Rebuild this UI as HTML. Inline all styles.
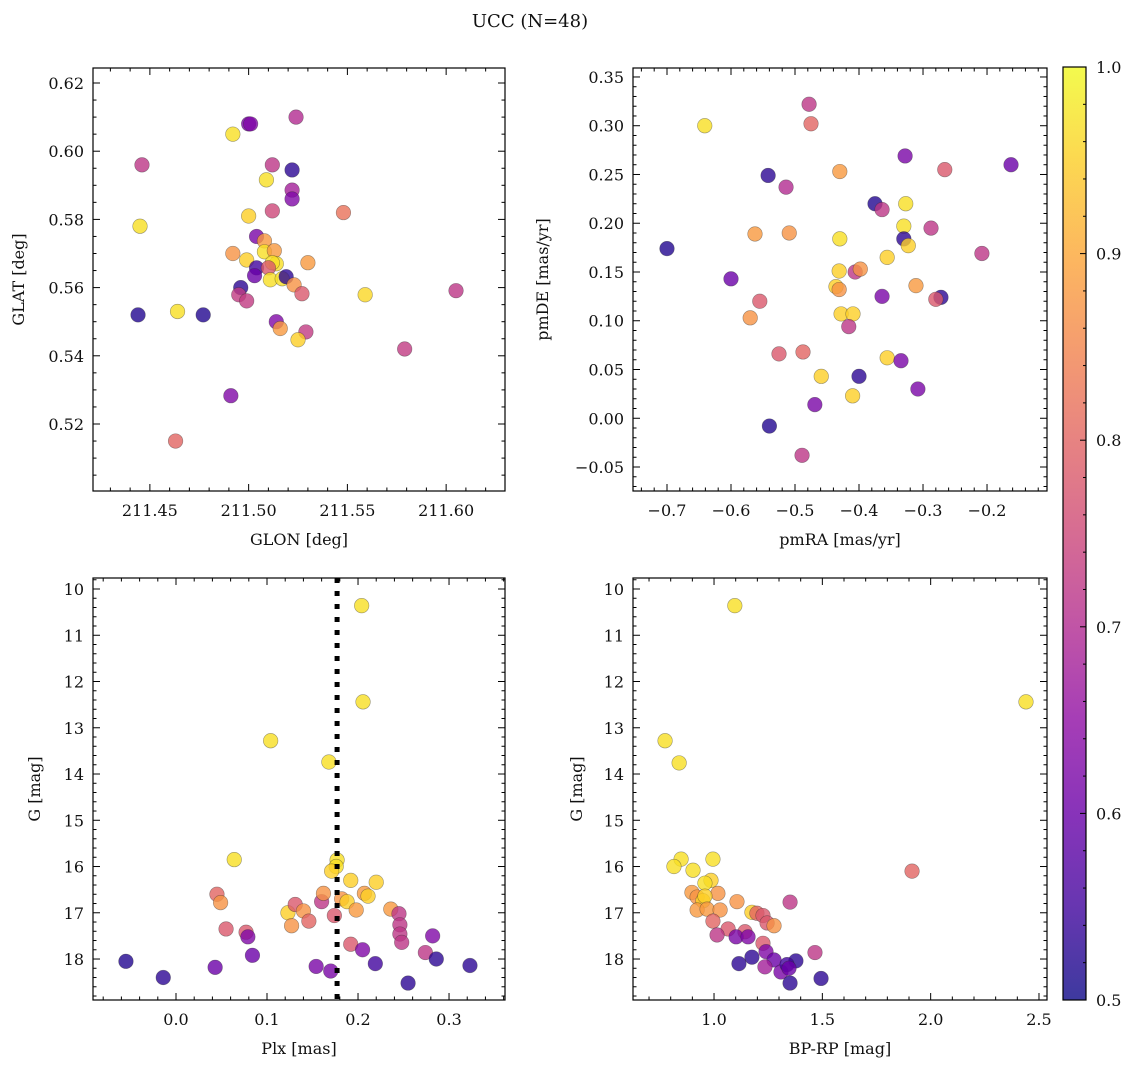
<!DOCTYPE html>
<html><head><meta charset="utf-8"><style>
body{margin:0;background:#fff}
svg text{font-family:"DejaVu Serif","Liberation Serif",serif;fill:#111}
</style></head><body>
<svg id="fig" width="1136" height="1067" xmlns="http://www.w3.org/2000/svg">
<text x="530" y="27" font-size="18" text-anchor="middle">UCC (N=48)</text>
</svg>
<script>
// ---- data: panel 1 (GLON vs GLAT)
const glon1=[211.446,211.445,211.444,211.464,211.477,211.463,211.492,211.500,211.501,211.524,211.512,211.522,211.509,211.522,211.522,211.512,211.500,211.548,211.504,211.508,211.492,211.508,211.513,211.499,211.530,211.514,211.512,211.504,211.510,211.503,211.511,211.517,211.519,211.523,211.527,211.496,211.495,211.499,211.514,211.516,211.529,211.525,211.559,211.605,211.579,211.491];
const glat1=[0.596,0.578,0.552,0.553,0.552,0.515,0.605,0.608,0.608,0.610,0.596,0.5945,0.5916,0.5886,0.586,0.5825,0.581,0.582,0.575,0.5737,0.570,0.5705,0.5708,0.5681,0.5673,0.567,0.5673,0.5658,0.5658,0.5635,0.5623,0.5626,0.5632,0.5608,0.5582,0.560,0.5579,0.5561,0.550,0.548,0.547,0.5447,0.5579,0.5591,0.542,0.5283];
const prob1=[.72,.97,.52,.97,.52,.80,.97,.62,.63,.70,.72,.53,.97,.68,.63,.75,.95,.82,.62,.88,.87,.97,.88,.95,.88,.97,.97,.55,.78,.60,.97,.97,.53,.87,.78,.53,.73,.73,.63,.88,.73,.95,.96,.72,.73,.63];
// ---- panel 2 (pmRA vs pmDE)
const pmra2=[-0.70,-0.641,-0.60,-0.542,-0.514,-0.478,-0.475,-0.430,-0.5625,-0.509,-0.430,-0.570,-0.555,-0.525,-0.4875,-0.431,-0.436,-0.431,-0.428,-0.4094,-0.416,-0.406,-0.398,-0.375,-0.364,-0.364,-0.356,-0.356,-0.40,-0.41,-0.459,-0.469,-0.54,-0.489,-0.328,-0.327,-0.330,-0.330,-0.323,-0.311,-0.3344,-0.308,-0.2875,-0.272,-0.280,-0.266,-0.208,-0.1625];
const pmde2=[0.174,0.30,0.143,0.249,0.237,0.322,0.302,0.253,0.189,0.190,0.184,0.103,0.120,0.066,0.068,0.151,0.135,0.132,0.107,0.107,0.094,0.150,0.153,0.220,0.214,0.125,0.165,0.062,0.043,0.023,0.043,0.014,-0.008,-0.038,0.269,0.220,0.197,0.184,0.177,0.136,0.059,0.030,0.195,0.124,0.122,0.255,0.169,0.260];
const prob2=[.52,.97,.60,.53,.70,.72,.80,.88,.88,.87,.97,.87,.78,.78,.80,.95,.95,.87,.95,.95,.72,.72,.87,.52,.72,.62,.95,.95,.53,.95,.95,.62,.52,.72,.62,.97,.97,.53,.95,.88,.62,.62,.72,.53,.78,.78,.72,.60];
// ---- panel 3 (Plx vs G)
const plx3=[-0.055,-0.014,0.043,0.045,0.049,0.055,0.064,0.077,0.079,0.084,0.104,0.123,0.127,0.131,0.140,0.146,0.154,0.160,0.162,0.170,0.168,0.174,0.177,0.176,0.171,0.182,0.188,0.192,0.220,0.207,0.211,0.198,0.192,0.205,0.219,0.255,0.236,0.245,0.246,0.246,0.248,0.274,0.282,0.286,0.323,0.204,0.2055];
const g3=[18.05,18.40,18.18,16.60,16.78,17.35,15.85,17.42,17.52,17.92,13.28,17.00,17.28,16.82,16.96,17.18,18.16,16.76,16.58,18.26,13.74,17.06,15.86,16.00,16.10,16.70,16.76,16.30,16.34,16.58,16.64,16.94,17.68,17.80,18.10,18.52,16.92,17.02,17.26,17.46,17.64,17.86,17.50,18.00,18.14,10.36,12.44];
const prob3=[.52,.53,.60,.80,.87,.78,.97,.78,.63,.60,.97,.95,.87,.78,.87,.80,.62,.72,.87,.62,.97,.78,.97,.97,.95,.87,.95,.95,.95,.88,.95,.88,.78,.63,.55,.53,.88,.72,.72,.72,.72,.72,.63,.53,.53,.97,.97];
// ---- panel 4 (BP-RP vs G)
const bprp4=[1.096,2.44,0.774,0.839,1.914,0.848,0.815,0.995,0.903,0.986,0.958,0.898,1.018,0.922,0.949,0.958,0.922,0.968,1.028,1.106,1.175,1.198,1.226,1.245,1.277,0.995,1.065,1.014,1.143,1.102,1.157,1.226,1.240,1.175,1.277,1.115,1.378,1.235,1.309,1.337,1.346,1.351,1.494,1.351,1.466];
const g4=[10.36,12.44,13.28,13.76,16.10,15.84,16.00,15.84,16.08,16.30,16.36,16.56,16.58,16.66,16.74,16.64,16.94,16.92,16.94,16.76,16.99,17.01,17.06,17.22,17.28,17.18,17.35,17.48,17.41,17.52,17.52,17.66,17.84,17.96,18.02,18.10,18.04,18.17,18.28,18.12,18.20,18.52,18.42,16.77,17.86];
const prob4=[.97,.97,.97,.97,.80,.97,.97,.97,.97,.95,.97,.88,.87,.87,.95,.95,.88,.88,.87,.87,.95,.80,.78,.78,.87,.80,.78,.72,.78,.62,.63,.78,.63,.53,.60,.53,.53,.68,.62,.55,.60,.53,.53,.72,.72];
const plxRef=[0.177];
const cbTicks=[0.5,0.6,0.7,0.8,0.9,1.0];

const NS='http://www.w3.org/2000/svg';
const svg=document.getElementById('fig');
function mk(tag,attrs,parent){const e=document.createElementNS(NS,tag);for(const k in attrs)e.setAttribute(k,attrs[k]);(parent||svg).appendChild(e);return e;}
const stops=[[13,8,135],[65,4,157],[106,0,168],[143,13,164],[177,42,144],[204,71,120],[225,100,98],[242,132,75],[252,166,54],[252,206,37],[240,249,33]];
function plasma(t){t=Math.max(0,Math.min(1,t))*10;const i=Math.min(9,Math.floor(t)),f=t-i;const a=stops[i],b=stops[i+1];return 'rgb('+a.map((v,k)=>Math.round(v+(b[k]-v)*f)).join(',')+')';}
function pcol(p){return plasma((p-0.5)/0.5);}
function fmt(v,d){const s=v.toFixed(d);return s.replace('-','\u2212');}

function panel(o){
  const g=mk('g',{});
  
  
  const X=v=>o.L+(v-o.x0)/(o.x1-o.x0)*(o.R-o.L);
  const Y=o.inv?(v=>o.T+(v-o.y0)/(o.y1-o.y0)*(o.B-o.T)):(v=>o.B-(v-o.y0)/(o.y1-o.y0)*(o.B-o.T));
  for(let i=0;i<o.xs.length;i++){
    const c=mk('circle',{cx:X(o.xs[i]),cy:Y(o.ys[i]),r:7.3,fill:pcol(o.ps[i]),'fill-opacity':0.8,stroke:'rgba(40,40,40,0.45)','stroke-width':0.6},g);
    
    
  }
  if(o.vline){for(const v of o.vline){const l=mk('line',{x1:X(v),x2:X(v),y1:o.T,y2:o.B,stroke:'#000','stroke-width':5,'stroke-dasharray':'5 8'},g);
    
    }}
  const fr=mk('rect',{x:o.L,y:o.T,width:o.R-o.L,height:o.B-o.T,fill:'none',stroke:'#000','stroke-width':1.2},g);
  
  
  for(let v=o.xm0;v<=o.x1+1e-9;v+=o.xmin){const px=X(v);if(px<o.L-0.5||px>o.R+0.5)continue;
    const maj=Math.abs(v/o.xmaj-Math.round(v/o.xmaj))<1e-6;const len=maj?7:3.5;
    mk('line',{x1:px,x2:px,y1:o.B,y2:o.B-len,stroke:'#000','stroke-width':1},g);
    mk('line',{x1:px,x2:px,y1:o.T,y2:o.T+len,stroke:'#000','stroke-width':1},g);
    if(maj){const t=mk('text',{x:px,y:o.B+25,'font-size':16,'text-anchor':'middle'},g);t.textContent=fmt(v,o.xd);
      
      }}
  for(let v=o.ym0;v<=o.y1+1e-9;v+=o.ymin){const py=Y(v);if(py<o.T-0.5||py>o.B+0.5)continue;
    const maj=Math.abs(v/o.ymaj-Math.round(v/o.ymaj))<1e-6;const len=maj?7:3.5;
    mk('line',{x1:o.L,x2:o.L+len,y1:py,y2:py,stroke:'#000','stroke-width':1},g);
    mk('line',{x1:o.R,x2:o.R-len,y1:py,y2:py,stroke:'#000','stroke-width':1},g);
    if(maj){const t=mk('text',{x:o.L-9,y:py+6,'font-size':16,'text-anchor':'end'},g);t.textContent=fmt(v,o.yd);
      
      }}
  const xl=mk('text',{x:(o.L+o.R)/2,y:o.B+54,'font-size':16,'text-anchor':'middle'},g);xl.textContent=o.xlab;
  
  
  const yx=o.ylx,yy=(o.T+o.B)/2;
  const yl=mk('text',{x:yx,y:yy,'font-size':16,'text-anchor':'middle',transform:'rotate(-90 '+yx+' '+yy+')'},g);yl.textContent=o.ylab;
  
  
}
panel({name:'glon-glat-panel',L:93,R:505,T:68,B:491,x0:211.4212,x1:211.6298,y0:0.50035,y1:0.6244,xs:glon1,ys:glat1,ps:prob1,
  xm0:211.43,xmin:0.01,xmaj:0.05,xd:2,ym0:0.505,ymin:0.005,ymaj:0.02,yd:2,xlab:'GLON [deg]',ylab:'GLAT [deg]',ylx:24});
panel({name:'pm-panel',L:633,R:1047,T:68,B:491,x0:-0.7531,x1:-0.1063,y0:-0.0746,y1:0.3592,xs:pmra2,ys:pmde2,ps:prob2,
  xm0:-0.74,xmin:0.02,xmaj:0.1,xd:1,ym0:-0.07,ymin:0.01,ymaj:0.05,yd:2,xlab:'pmRA [mas/yr]',ylab:'pmDE [mas/yr]',ylx:548});
panel({name:'plx-g-panel',L:93,R:505,T:578,B:1000,x0:-0.0912,x1:0.3615,y0:9.762,y1:18.886,inv:true,xs:plx3,ys:g3,ps:prob3,vline:plxRef,
  xm0:-0.08,xmin:0.02,xmaj:0.1,xd:1,ym0:9.8,ymin:0.2,ymaj:1,yd:0,xlab:'Plx [mas]',ylab:'G [mag]',ylx:40});
panel({name:'cmd-panel',L:633,R:1047,T:578,B:1000,x0:0.626,x1:2.537,y0:9.762,y1:18.886,inv:true,xs:bprp4,ys:g4,ps:prob4,
  xm0:0.7,xmin:0.1,xmaj:0.5,xd:1,ym0:9.8,ymin:0.2,ymaj:1,yd:0,xlab:'BP-RP [mag]',ylab:'G [mag]',ylx:582});
const cb=mk('g',{});


const defs=mk('defs',{},cb);
const lg=mk('linearGradient',{id:'cbg',x1:0,y1:1,x2:0,y2:0},defs);
for(let i=0;i<=20;i++){mk('stop',{offset:i/20,'stop-color':plasma(i/20),'stop-opacity':0.8},lg);}
const cT=67,cB=1000,cL=1063,cR=1086;
mk('rect',{x:cL,y:cT,width:cR-cL,height:cB-cT,fill:'url(#cbg)',stroke:'#000','stroke-width':1.2},cb);
const CY=v=>cB-(v-0.5)/0.5*(cB-cT);
for(let v=0.5;v<=1.0001;v+=0.02){const y=CY(v);const maj=Math.abs(v*10-Math.round(v*10))<1e-6;
  mk('line',{x1:cR,x2:cR-(maj?6:3),y1:y,y2:y,stroke:'#000','stroke-width':1},cb);}
for(const v of cbTicks){const t=mk('text',{x:cR+10,y:CY(v)+6,'font-size':16},cb);t.textContent=v.toFixed(1);
  
  }
</script>
</body></html>
